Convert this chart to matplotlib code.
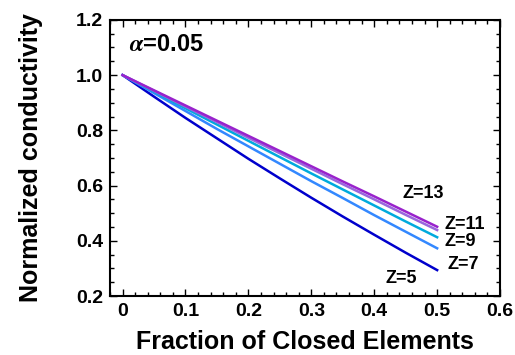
import matplotlib
matplotlib.use("Agg")
import matplotlib.pyplot as plt
from matplotlib.ticker import MultipleLocator

plt.rcParams['font.family'] = ['Liberation Sans', 'DejaVu Sans']
plt.rcParams['font.weight'] = 'bold'
plt.rcParams['mathtext.fontset'] = 'stix'

# data
frac = [0.0, 0.05, 0.1, 0.15, 0.2, 0.25, 0.3, 0.35, 0.4, 0.45, 0.5]
z5 = [1.0, 0.922, 0.845, 0.771, 0.697, 0.626, 0.556, 0.488, 0.422, 0.357, 0.294]
z7 = [1.0, 0.935, 0.870, 0.805, 0.742, 0.679, 0.616, 0.555, 0.493, 0.433, 0.373]
z9 = [1.0, 0.940, 0.880, 0.821, 0.762, 0.703, 0.644, 0.586, 0.528, 0.470, 0.413]
z11 = [1.0, 0.943, 0.886, 0.830, 0.773, 0.717, 0.661, 0.605, 0.550, 0.494, 0.439]
z13 = [1.0, 0.945, 0.890, 0.835, 0.780, 0.725, 0.670, 0.615, 0.561, 0.506, 0.451]
xticks = [0, 0.1, 0.2, 0.3, 0.4, 0.5, 0.6]
xticklabels = ['0', '0.1', '0.2', '0.3', '0.4', '0.5', '0.6']

fig = plt.figure(figsize=(5.15, 3.55), dpi=100)
ax = fig.add_axes([0.2136, 0.166, 0.7574, 0.778])

ax.plot(frac, z5, color='#0000CC', lw=1.8)
ax.plot(frac, z7, color='#3388FF', lw=1.8)
ax.plot(frac, z9, color='#00AADD', lw=1.8)
ax.plot(frac, z11, color='#9966DD', lw=1.8)
ax.plot(frac, z13, color='#9922CC', lw=1.8)

#标注
ax.text(0.445, 0.573, 'Z=13', fontsize=13, fontweight='bold', va='center')
ax.text(0.512, 0.458, 'Z=11', fontsize=13, fontweight='bold', va='center')
ax.text(0.512, 0.397, 'Z=9', fontsize=13, fontweight='bold', va='center')
ax.text(0.517, 0.316, 'Z=7', fontsize=13, fontweight='bold', va='center')
ax.text(0.418, 0.262, 'Z=5', fontsize=13, fontweight='bold', va='center')
ax.text(0.01, 1.11, r'$\alpha$=0.05', fontsize=17, fontweight='bold', va='center')

#坐标轴
ax.set_xlim(-0.02, 0.6)
ax.set_ylim(0.2, 1.2)
ax.set_xticks(xticks)
ax.set_xticklabels(xticklabels)
ax.xaxis.set_minor_locator(MultipleLocator(0.02))
ax.yaxis.set_major_locator(MultipleLocator(0.2))
ax.yaxis.set_minor_locator(MultipleLocator(0.05))
ax.tick_params(which='both', direction='in', top=True, right=True, labelsize=14, width=1)
ax.tick_params(which='major', length=5, pad=5)
ax.tick_params(which='minor', length=3)
for s in ax.spines.values():
    s.set_linewidth(1.5)

ax.set_xlabel('Fraction of Closed Elements', fontsize=18, fontweight='bold', labelpad=7)
ax.set_ylabel('Normalized conductivity', fontsize=18, fontweight='bold', labelpad=24)

fig.savefig('out.png', dpi=100)
